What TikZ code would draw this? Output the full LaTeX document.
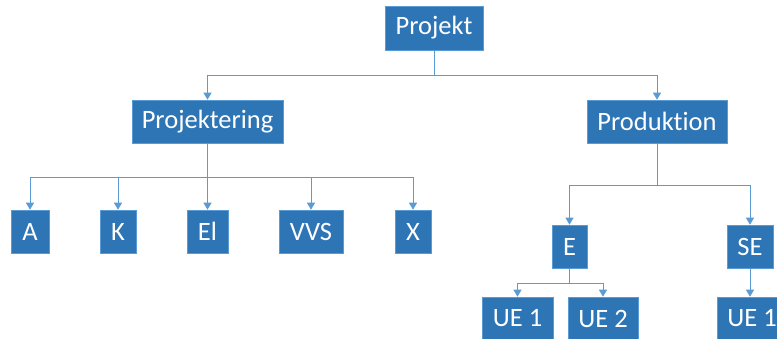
\documentclass[tikz,border=0pt]{standalone}
\usepackage{fontspec}
\setmainfont{Carlito}[Ligatures={NoCommon}]
\usetikzlibrary{arrows.meta}
\definecolor{boxblue}{HTML}{2E75B6}
\definecolor{edgeblue}{HTML}{5B9BD5}
\definecolor{lineblue}{HTML}{5B9BD5}
\tikzset{
  orgbox/.style={fill=boxblue, draw=edgeblue, line width=0.6pt, text=white,
    inner sep=0pt, minimum height=43pt, font=\fontsize{26.5}{30}\selectfont},
  conn/.style={draw=lineblue, line width=1pt,
    -{Triangle[width=8pt,length=7pt]}},
  plainconn/.style={draw=lineblue, line width=1pt}
}
\begin{document}
\begin{tikzpicture}[x=1pt,y=-1pt]
\useasboundingbox (0,0) rectangle (777,338);
\clip (0,0) rectangle (777,338);
\node[orgbox, minimum width=98pt, minimum height=44pt] (proj) at (434,28) {Projekt};
\node[orgbox, minimum width=151pt] (pk) at (207.5,121.5) {Projektering};
\node[orgbox, minimum width=140pt] (pd) at (657,121.5) {Produktion};
\node[orgbox, minimum width=38pt] (a) at (30,231.5) {A};
\node[orgbox, minimum width=36pt] (k) at (118,231.5) {K};
\node[orgbox, minimum width=41pt] (el) at (207.5,231.5) {El};
\node[orgbox, minimum width=64pt] (vvs) at (311,231.5) {VVS};
\node[orgbox, minimum width=36pt] (x) at (413,231.5) {X};
\node[orgbox, minimum width=35pt] (e) at (569.5,246.5) {E};
\node[orgbox, minimum width=46pt] (se) at (750,246.5) {SE};
\node[orgbox, minimum width=71pt] (ue1) at (517.5,318.5) {UE 1};
\node[orgbox, minimum width=70pt] (ue2) at (603,318.5) {UE 2};
\node[orgbox, minimum width=70pt] (ue3) at (752,318.5) {UE 1};
% connectors
\draw[conn] (proj.south) -- ++(0,25) -| (pk.north);
\draw[conn] (proj.south) -- ++(0,25) -| (pd.north);
\foreach \n in {a,k,el,vvs,x}
  \draw[conn] (pk.south) -- ++(0,34) -| (\n.north);
\draw[conn] (pd.south) -- ++(0,42) -| (e.north);
\draw[conn] (pd.south) -- ++(0,42) -| (se.north);
\draw[conn] (e.south) -- ++(0,15) -| (ue1.north);
\draw[conn] (e.south) -- ++(0,15) -| (ue2.north);
\draw[conn] (se.south) -- (se.south |- ue3.north);
\end{tikzpicture}
\end{document}
